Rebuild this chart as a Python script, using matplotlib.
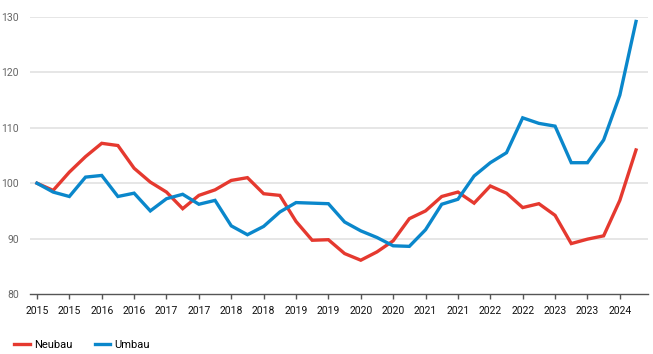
import numpy as np
import matplotlib.pyplot as plt
from matplotlib import font_manager

# quarterly index, Q1 2015 = 100
neubau = [100.0, 98.7, 102.0, 104.8, 107.2, 106.8, 102.7, 100.2, 98.4, 95.4,
          97.8, 98.8, 100.5, 101.0, 98.1, 97.8, 93.1, 89.7, 89.8, 87.3,
          86.1, 87.6, 89.6, 93.6, 95.0, 97.6, 98.4, 96.4, 99.5, 98.2,
          95.6, 96.3, 94.2, 89.1, 89.9, 90.5, 96.9, 106.0]
umbau = [100.0, 98.4, 97.6, 101.1, 101.4, 97.6, 98.2, 95.0, 97.2, 98.0,
         96.2, 96.9, 92.3, 90.7, 92.2, 94.8, 96.5, 96.4, 96.3, 93.0,
         91.4, 90.2, 88.7, 88.6, 91.6, 96.2, 97.1, 101.3, 103.7, 105.5,
         111.8, 110.8, 110.3, 103.7, 103.7, 107.8, 115.9, 129.2]
tick_labels = ["2015", "2015", "2016", "2016", "2017", "2017", "2018", "2018",
               "2019", "2019", "2020", "2020", "2021", "2021", "2022", "2022",
               "2023", "2023", "2024"]
y_ticks = [80, 90, 100, 110, 120, 130]

RED = "#e5392f"
BLUE = "#0a87cb"

installed = {f.name for f in font_manager.fontManager.ttflist}
narrow = "Liberation Sans Narrow" if "Liberation Sans Narrow" in installed else "Roboto"
plt.rcParams["font.family"] = [narrow, "DejaVu Sans"]

fig = plt.figure(figsize=(6.53, 3.54), dpi=100)
ax = fig.add_axes([30 / 653, 1 - 294 / 354, 618 / 653, 277 / 354])

x = np.arange(len(neubau))
ax.plot(x, neubau, color=RED, lw=2.4, label="Neubau", solid_joinstyle="miter")
ax.plot(x, umbau, color=BLUE, lw=2.4, label="Umbau", solid_joinstyle="miter")

ax.set_xlim(-0.43, 37.74)
ax.set_ylim(80, 130)
ax.set_yticks(y_ticks)
ax.set_xticks(np.arange(0, 37, 2))
ax.set_xticklabels(tick_labels)

for yv in y_ticks[1:]:
    ax.axhline(yv, color="#e6e6e6", lw=1.4, zorder=0)

for s in ["top", "right", "left"]:
    ax.spines[s].set_visible(False)
ax.spines["bottom"].set_color("#555555")
ax.spines["bottom"].set_linewidth(1.0)

ax.tick_params(axis="y", length=0, pad=8, labelsize=7.5, labelcolor="#666666")
ax.tick_params(axis="x", length=3.5, width=1.0, color="#555555", pad=5,
               labelsize=7.5, labelcolor="#111111")

fig.legend(loc="center left", bbox_to_anchor=(14 / 653, 1 - 345 / 354), ncol=2,
           frameon=False, fontsize=8, handlelength=1.4, handletextpad=0.4,
           columnspacing=2.0, borderaxespad=0, borderpad=0)

fig.savefig("out.png", dpi=100)
